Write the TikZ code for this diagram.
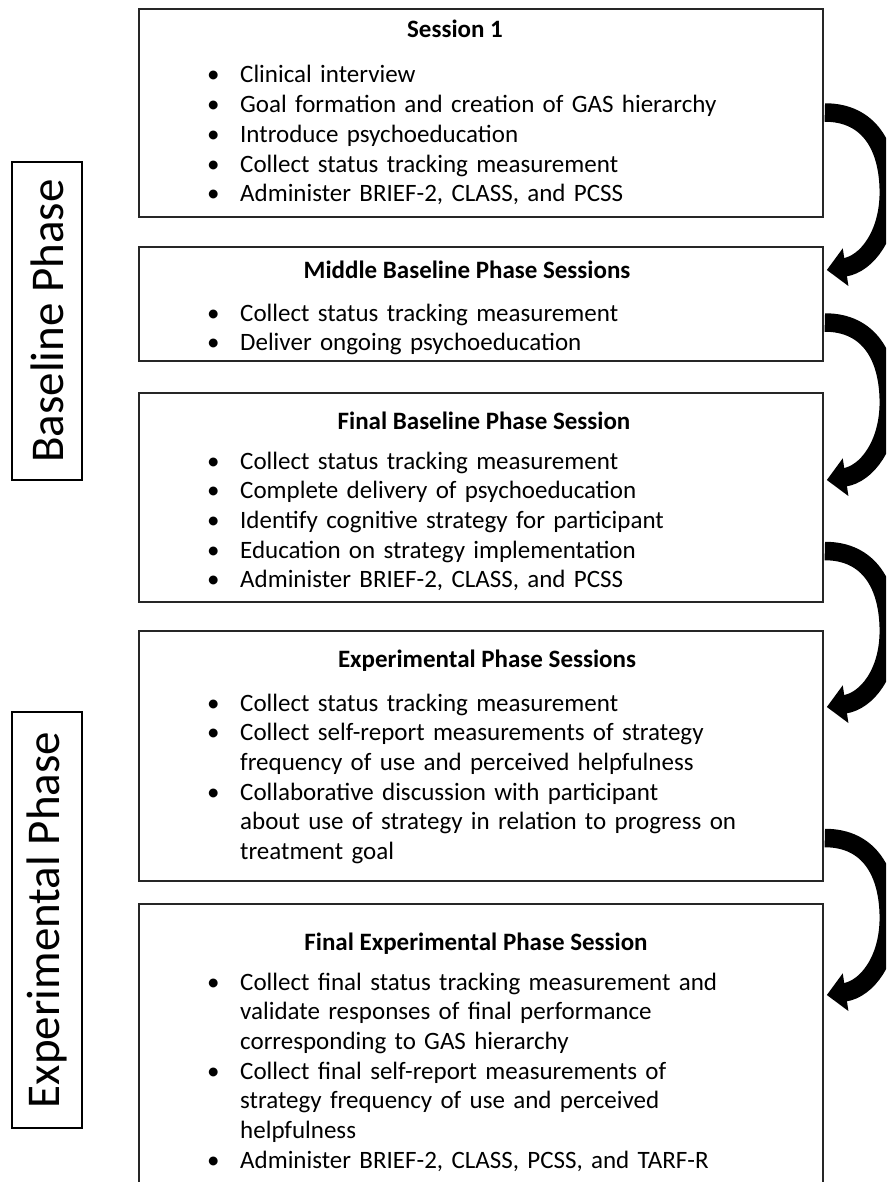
\documentclass[tikz,border=0pt]{standalone}
\usepackage{fontspec}
\setmainfont{Carlito}
\usetikzlibrary{arrows.meta, calc}

\newcommand{\bul}[1]{\hangindent=33pt\hangafter=1\noindent\makebox[33pt][l]{\textbullet}#1\par}

\begin{document}

\begin{tikzpicture}[x = 1pt, y = -1pt,
	session/.style = {draw = black!85, line width = 1.8pt, anchor = north west, minimum width = 684pt, inner sep = 0pt},
	phase/.style = {draw = black, line width = 2.6pt, rotate = 90, minimum height = 70pt, inner sep = 0pt, font = \fontsize{47}{56}\selectfont},
	heading/.style = {anchor = base, inner sep = 0pt, font = \bfseries\fontsize{25}{30}\selectfont},
	items/.style = {anchor = base west, inner sep = 0pt, text width = 600pt, align = left, font = \fontsize{25}{29.7}\selectfont},
	flow/.style = {line width = 18.5pt, -{Triangle[width = 37pt, length = 19pt]}}]

\useasboundingbox (0, 0) rectangle (886, 1182);
\clip (0, 0) rectangle (886, 1182);

% Phase labels

\node [phase, minimum width = 318pt] (baseline) at (47, 321) {Baseline Phase};
\node [phase, minimum width = 416pt] (experimental) at (47, 920) {Experimental Phase};

% Session boxes

\node [session, minimum height = 208pt] (s1) at (138, 8) {};
\node [session, minimum height = 114pt] (s2) at (138, 246) {};
\node [session, minimum height = 209pt] (s3) at (138, 392) {};
\node [session, minimum height = 250pt] (s4) at (138, 630) {};
\node [session, minimum height = 300pt] (s5) at (138, 903) {};

% Session texts

\node [heading] (s1h) at (455, 38) {Session 1};
\node [items] (s1i) at (207, 83) {%
	\bul{Clinical interview}
	\bul{Goal formation and creation of GAS hierarchy}
	\bul{Introduce psychoeducation}
	\bul{Collect status tracking measurement}
	\bul{Administer BRIEF-2, CLASS, and PCSS}};

\node [heading] (s2h) at (467, 278) {Middle Baseline Phase Sessions};
\node [items] (s2i) at (207, 321) {%
	\bul{Collect status tracking measurement}
	\bul{Deliver ongoing psychoeducation}};

\node [heading] (s3h) at (484, 429) {Final Baseline Phase Session};
\node [items] (s3i) at (207, 469) {%
	\bul{Collect status tracking measurement}
	\bul{Complete delivery of psychoeducation}
	\bul{Identify cognitive strategy for participant}
	\bul{Education on strategy implementation}
	\bul{Administer BRIEF-2, CLASS, and PCSS}};

\node [heading] (s4h) at (487, 667) {Experimental Phase Sessions};
\node [items] (s4i) at (207, 711) {%
	\bul{Collect status tracking measurement}
	\bul{Collect self-report measurements of strategy\newline frequency of use and perceived helpfulness}
	\bul{Collaborative discussion with participant\newline about use of strategy in relation to progress on\newline treatment goal}};

\node [heading] (s5h) at (476, 950) {Final Experimental Phase Session};
\node [items] (s5i) at (207, 990) {%
	\bul{Collect final status tracking measurement and\newline validate responses of final performance\newline corresponding to GAS hierarchy}
	\bul{Collect final self-report measurements of\newline strategy frequency of use and perceived\newline helpfulness}
	\bul{Administer BRIEF-2, CLASS, PCSS, and TARF-R}};

% Flow arrows

\coordinate (t1) at ($(s1.north east) + (1, 104.5)$);
\coordinate (h2) at ($(s2.north east) + (3, 24)$);
\coordinate (t2) at ($(s2.north east) + (1, 76.5)$);
\coordinate (h3) at ($(s3.north east) + (3, 88)$);
\coordinate (t3) at ($(s3.north east) + (1, 159)$);
\coordinate (h4) at ($(s4.north east) + (3, 77)$);
\coordinate (t4) at ($(s4.north east) + (1, 208)$);
\coordinate (h5) at ($(s5.north east) + (3, 92)$);

\foreach \t/\h in {t1/h2, t2/h3, t3/h4, t4/h5}
	\draw [flow] (\t) .. controls +(45, 0) and +(0, -45) .. ++(64, 80) .. controls +(0, 42) and +(40, -6) .. (\h);

\end{tikzpicture}

\end{document}
